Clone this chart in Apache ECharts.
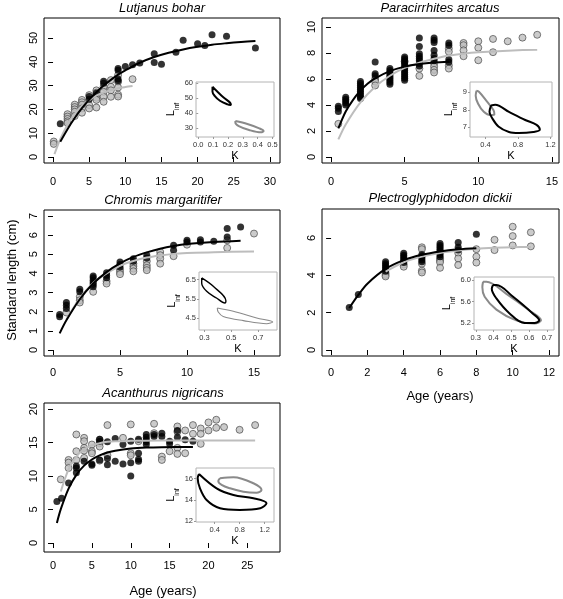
<!DOCTYPE html>
<html><head><meta charset="utf-8">
<script src="https://cdn.jsdelivr.net/npm/echarts@6/dist/echarts.min.js"></script>
<style>html,body{margin:0;padding:0;background:#fff}#c{width:563px;height:599px}</style>
</head><body><div id="c"></div>
<script>
// ---------------- DATA ----------------
const titles = ['Lutjanus bohar', 'Paracirrhites arcatus', 'Chromis margaritifer', 'Plectroglyphidodon dickii', 'Acanthurus nigricans'];
const yTitle = 'Standard length (cm)';
const xTitle = 'Age (years)';

// Lutjanus bohar
const lutjanusBlack = [[1,14],[5,24.3],[5,25.4],[6,26.8],[7,31.8],[7,31],[9,37.2],[9,36.4],[9,32.8],[9,32],[10,38],[11,38.8],[12,39.5],[14,43.4],[14,39.7],[15,39],[17,44],[18,49],[20,47.6],[21,46.8],[22,51.4],[24,50.7],[28,45.8]];
const lutjanusGrey = [[0.1,6.5],[0.1,5.5],[2,18],[2,17],[2,16],[2,15],[2,14.3],[3,22],[3,21],[3,20],[3,19],[3,17.2],[4,24],[4,23],[4,22],[4,20.4],[4,18.6],[5,26],[5,21.8],[5,20.4],[6,28],[6,27],[6,24.9],[6,24],[6,20.8],[7,29.5],[7,27.4],[7,25.3],[7,23.2],[8,32.3],[8,29.5],[8,28],[8,25.3],[9,34.4],[9,31.6],[9,29.2],[9,26.2],[9,25.4],[11,32.7]];
const lutjanusBlackFit = [[1,6.4],[2,11.7],[3,16.4],[4,20.5],[5,24.1],[6,27.2],[7,30.0],[8,32.4],[9,34.6],[10,36.4],[12,39.6],[14,42.0],[16,43.8],[18,45.2],[20,46.3],[22,47.2],[24,47.8],[26,48.3],[28,48.7]];
const lutjanusGreyFit = [[0.2,1.2],[1,7.5],[2,13.6],[3,18.1],[4,21.5],[5,23.9],[6,25.8],[7,27.1],[8,28.1],[9,28.9],[10,29.4],[11,29.8]];
const lutjanusBlackEll = [[0.096,57.7],[0.123,55.1],[0.169,50.7],[0.215,47.1],[0.22,45.5],[0.197,46],[0.146,48.4],[0.112,51.5],[0.096,54.4],[0.096,57.7]];
const lutjanusGreyEll = [[0.25,34.9],[0.331,32.9],[0.411,30],[0.44,28.2],[0.423,27.3],[0.342,28.9],[0.273,31.5],[0.25,33.7],[0.25,34.9]];

// Paracirrhites arcatus
const paraBlack = [[0.5,3.9],[0.5,3.75],[0.5,3.5],[1,4.6],[1,4.45],[1,4.3],[1,4.15],[1,4.0],[2,5.8],[2,5.65],[2,5.5],[2,5.35],[2,5.2],[2,5.05],[2,4.9],[2,4.75],[2,4.6],[2,4.5],[3,7.3],[3,6.4],[3,6.25],[4,6.8],[4,6.65],[4,6.5],[4,6.35],[4,6.2],[4,6.05],[4,5.9],[4,5.75],[4,5.6],[5,7.7],[5,7.55],[5,7.4],[5,7.25],[5,7.1],[5,6.95],[5,6.8],[5,6.65],[5,6.5],[5,6.35],[5,6.2],[5,6.05],[5,5.9],[6,9.15],[6,8.5],[6,7.95],[6,7.75],[6,7.57],[6,7.4],[6,7.2],[6,7.0],[7,9.15],[7,8.97],[7,8.8],[7,8.2],[7,7.82],[7,7.57],[7,7.4],[8,8.77],[8,8.6],[8,7.5],[8,7.3]];
const paraGrey = [[0.5,2.55],[3,6.0],[3,5.8],[3,5.5],[5,7.35],[6,6.8],[6,6.24],[7,7.2],[7,6.95],[7,6.7],[7,6.5],[8,8.35],[8,8.1],[8,7.05],[8,6.8],[9,8.77],[9,8.6],[9,8.2],[9,7.75],[10,8.9],[10,8.4],[10,7.44],[11,9.08],[11,8.06],[12,8.9],[13,9.18],[14,9.4]];
const paraBlackFit = [[0.5,2.2],[1,3.5],[1.5,4.4],[2,5.1],[2.5,5.65],[3,6.05],[4,6.6],[5,6.95],[6,7.15],[7,7.27],[8,7.33]];
const paraGreyFit = [[0.5,1.35],[1,2.5],[2,4.2],[3,5.4],[4,6.25],[5,6.85],[6,7.25],[7,7.55],[8,7.8],[9,7.95],[10,8.05],[12,8.17],[14,8.24]];
const paraBlackEll = [[0.47,8.25],[0.52,8.29],[0.69,7.88],[0.89,7.41],[1.03,7.13],[1.07,6.85],[0.99,6.72],[0.81,6.66],[0.69,6.72],[0.56,7.04],[0.48,7.54],[0.45,7.88],[0.47,8.25]];
const paraGreyEll = [[0.29,9.09],[0.32,9.04],[0.41,8.53],[0.5,7.97],[0.51,7.73],[0.46,7.69],[0.38,7.88],[0.31,8.35],[0.28,8.81],[0.29,9.09]];

// Chromis margaritifer
const chromisBlack = [[0.5,1.86],[0.5,1.74],[1,2.48],[1,2.34],[1,2.17],[2,3.18],[2,3.04],[3,3.87],[3,3.77],[3,3.65],[3,3.52],[3,3.42],[3,3.3],[4,4.04],[4,3.9],[4,3.77],[5,4.6],[5,4.46],[5,4.34],[6,4.77],[6,4.64],[7,4.95],[7,4.81],[9,5.47],[9,5.21],[10,5.73],[10,5.64],[11,5.76],[11,5.64],[12,5.68],[13,6.34],[13,5.9],[14,6.42]];
const chromisGrey = [[1,1.96],[2,2.78],[2,2.6],[2,2.48],[3,3.04],[4,3.6],[4,3.47],[5,4.22],[5,4.08],[5,3.96],[6,4.51],[6,4.38],[6,4.25],[6,4.11],[7,4.64],[7,4.43],[7,4.29],[7,4.17],[8,5.12],[8,4.95],[8,4.77],[8,4.51],[9,4.9],[10,5.5],[13,5.73],[13,5.33],[15,6.08]];
const chromisBlackFit = [[0.5,0.87],[1,1.55],[2,2.65],[3,3.47],[4,4.07],[5,4.52],[6,4.86],[7,5.1],[8,5.29],[9,5.43],[10,5.53],[12,5.64],[14,5.71]];
const chromisGreyFit = [[1,1.6],[2,2.7],[3,3.5],[4,4.0],[5,4.4],[6,4.65],[7,4.83],[8,4.94],[9,5.02],[10,5.06],[12,5.11],[15,5.14]];
const chromisBlackEll = [[0.28,6.59],[0.366,6.15],[0.46,5.4],[0.453,5.28],[0.39,5.54],[0.317,5.89],[0.28,6.33],[0.28,6.59]];
const chromisGreyEll = [[0.396,5.02],[0.515,4.85],[0.689,4.5],[0.808,4.29],[0.763,4.2],[0.59,4.36],[0.44,4.58],[0.403,4.81],[0.396,5.02]];

// Plectroglyphidodon dickii
const dickiiBlack = [[1,2.28],[1.5,2.97],[3,4.72],[3,4.62],[3,4.52],[3,4.42],[3,4.32],[3,4.22],[4,5.18],[4,5.08],[4,4.98],[4,4.88],[4,4.78],[4,4.68],[5,5.12],[5,5.02],[5,4.92],[5,4.82],[5,4.72],[6,5.7],[6,5.6],[6,5.5],[6,5.4],[6,5.3],[6,5.2],[6,5.1],[6,5.0],[7,5.75],[7,5.5],[7,5.35],[8,6.2]];
const dickiiGrey = [[3,4.12],[3,4.02],[3,3.94],[4,4.58],[4,4.46],[5,5.5],[5,5.4],[5,4.62],[5,4.25],[5,4.15],[6,4.9],[6,4.8],[6,4.7],[6,4.4],[7,5.2],[7,4.9],[7,4.55],[8,5.4],[8,5.0],[8,4.68],[9,5.9],[9,5.35],[10,6.6],[10,6.1],[10,5.6],[11,6.3],[11,5.55]];
const dickiiBlackFit = [[1,2.25],[1.5,2.95],[2,3.55],[3,4.34],[4,4.81],[5,5.1],[6,5.28],[7,5.39],[8,5.45]];
const dickiiGreyFit = [[3,4.2],[4,4.7],[5,5.0],[6,5.2],[7,5.33],[8,5.42],[9,5.47],[10,5.5],[11,5.52]];
const dickiiBlackEll = [[0.397,5.91],[0.416,5.91],[0.51,5.69],[0.62,5.38],[0.657,5.25],[0.63,5.2],[0.574,5.2],[0.49,5.38],[0.416,5.66],[0.39,5.84],[0.397,5.91]];
const dickiiGreyEll = [[0.341,5.97],[0.36,5.97],[0.47,5.75],[0.6,5.44],[0.667,5.25],[0.63,5.19],[0.527,5.25],[0.416,5.45],[0.35,5.69],[0.337,5.87],[0.341,5.97]];

// Acanthurus nigricans
const acanBlack = [[0.5,6.2],[1.1,6.7],[2,8.96],[3,10.5],[3,11.2],[3,11.5],[4,12.2],[5,11.8],[5,11.6],[6,12.4],[6,15.5],[6,15.2],[7,15.1],[7,12.6],[7,11.7],[8,15.6],[8,12.2],[9,14.7],[9,11.8],[10,15.2],[10,12.0],[10,10.0],[11,15.5],[11,13.4],[11,12.5],[11,12.2],[12,16.2],[12,15.8],[12,15.4],[12,15.1],[12,14.7],[13,16.2],[13,15.9],[14,16.4],[14,15.9],[15,15.2],[15,14.8],[16,16.8],[16,15.8],[17,15.4],[18,15.2]];
const acanGrey = [[1,9.5],[2,12.4],[2,12.0],[2,11.2],[3,16.2],[3,13.7],[3,12.4],[4,15.7],[4,15.2],[4,14.2],[4,13.8],[4,12.7],[5,14.7],[5,13.7],[5,13.4],[6,15.4],[6,14.9],[6,14.4],[6,12.3],[7,17.6],[7,13.1],[9,15.7],[10,17.7],[10,13.4],[10,13.1],[11,15.2],[13,17.8],[13,16.4],[14,12.9],[14,12.4],[15,13.7],[16,17.4],[16,16.6],[16,14.2],[16,13.3],[17,16.8],[17,13.4],[18,17.6],[18,16.3],[19,17.1],[19,16.3],[19,14.8],[20,18.0],[20,16.8],[21,18.4],[21,17.2],[22,17.3],[24,16.9],[26,17.6]];
const acanBlackFit = [[0.5,3.0],[1,5.05],[2,8.12],[3,10.18],[4,11.55],[5,12.47],[6,13.09],[7,13.5],[8,13.78],[10,14.1],[12,14.25],[14,14.31],[18,14.35]];
const acanGreyFit = [[1,7.7],[2,11.0],[3,12.9],[4,14.0],[5,14.6],[6,14.9],[7,15.1],[8,15.2],[10,15.25],[14,15.3],[20,15.3],[26,15.3]];
const acanBlackEll = [[0.148,16.43],[0.43,15.08],[0.7,14.45],[1.02,14.14],[1.23,13.67],[1.13,13.2],[0.8,13.04],[0.485,13.2],[0.27,13.98],[0.164,15.08],[0.127,16.03],[0.148,16.43]];
const acanGreyEll = [[0.485,16.03],[0.7,16.12],[1.02,15.56],[1.15,14.92],[1.07,14.67],[0.86,14.76],[0.645,15.08],[0.51,15.4],[0.457,15.77],[0.485,16.03]];

// tick labels
const mainXTicks = [[0,5,10,15,20,25,30],[0,5,10,15],[0,5,10,15],[0,2,4,6,8,10,12],[0,5,10,15,20,25]];
const mainYTicks = [[0,10,20,30,40,50],[0,2,4,6,8,10],[0,1,2,3,4,5,6,7],[0,2,4,6],[0,5,10,15,20]];
const insetKTicks = [[0,0.1,0.2,0.3,0.4,0.5],[0.4,0.8,1.2],[0.3,0.5,0.7],[0.3,0.4,0.5,0.6,0.7],[0.4,0.8,1.2]];
const insetLTicks = [[30,40,50,60],[7,8,9],[4.5,5.5,6.5],[5.2,5.6,6.0],[12,14,16]];
const insetKDec = [1,1,1,1,1];
const insetLDec = [0,0,1,1,0];

const blackPts = [lutjanusBlack, paraBlack, chromisBlack, dickiiBlack, acanBlack];
const greyPts = [lutjanusGrey, paraGrey, chromisGrey, dickiiGrey, acanGrey];
const blackFits = [lutjanusBlackFit, paraBlackFit, chromisBlackFit, dickiiBlackFit, acanBlackFit];
const greyFits = [lutjanusGreyFit, paraGreyFit, chromisGreyFit, dickiiGreyFit, acanGreyFit];
const blackElls = [lutjanusBlackEll, paraBlackEll, chromisBlackEll, dickiiBlackEll, acanBlackEll];
const greyElls = [lutjanusGreyEll, paraGreyEll, chromisGreyEll, dickiiGreyEll, acanGreyEll];

// ---------------- LAYOUT ----------------
const FONT = 'Liberation Sans, Arial, Helvetica, sans-serif';
const mainBox = [
  {l:44, t:18, w:236, h:145, x:[-1.25,31.4], y:[-2.52,58.4], m:13},
  {l:322, t:18, w:237, h:145, x:[-0.61,15.48], y:[-0.46,10.69], m:13},
  {l:44, t:210, w:236, h:146, x:[-0.67,16.94], y:[-0.31,7.31], m:11},
  {l:322, t:209, w:237, h:147, x:[-0.5,12.55], y:[-0.32,7.55], m:11},
  {l:44, t:403, w:236, h:149, x:[-1.16,29.2], y:[-1.34,20.9], m:8}
];
const insetBox = [
  {l:196, t:82, w:78, h:55, x:[-0.015,0.51], y:[24.2,60.9], lw:[2,2]},
  {l:470, t:82, w:82, h:55, x:[0.21,1.22], y:[6.43,9.6], lw:[2,2]},
  {l:199, t:272, w:78, h:58, x:[0.26,0.84], y:[3.87,6.9], lw:[1.4,1.1]},
  {l:474, t:277, w:80, h:53, x:[0.29,0.74], y:[5.07,6.06], lw:[2,2]},
  {l:196, t:468, w:78, h:54, x:[0.1,1.35], y:[11.9,17.0], lw:[2,2]}
];
const titlePos = [[162,8],[440,8],[163,200],[440,198],[163,393]];

const grids = [], xAxes = [], yAxes = [], series = [];
mainBox.forEach((b, i) => {
  grids.push({left:b.l, top:b.t, width:b.w, height:b.h, show:true, borderColor:'#000', borderWidth:1, backgroundColor:'transparent'});
  xAxes.push({type:'value', gridIndex:i, min:b.x[0], max:b.x[1],
    axisLine:{show:false}, splitLine:{show:false},
    axisTick:{show:true, customValues:mainXTicks[i], length:5, lineStyle:{color:'#000', width:1}},
    axisLabel:{customValues:mainXTicks[i], margin:b.m, fontSize:11, color:'#000', fontFamily:FONT}});
  yAxes.push({type:'value', gridIndex:i, min:b.y[0], max:b.y[1],
    axisLine:{show:false}, splitLine:{show:false},
    axisTick:{show:true, customValues:mainYTicks[i], length:5, lineStyle:{color:'#000', width:1}},
    axisLabel:{customValues:mainYTicks[i], rotate:90, margin:5, fontSize:11, color:'#000', fontFamily:FONT}});
});
insetBox.forEach((b, i) => {
  const gi = 5 + i;
  grids.push({left:b.l, top:b.t, width:b.w, height:b.h, show:true, borderColor:'#b4b4b4', borderWidth:1, backgroundColor:'transparent'});
  xAxes.push({type:'value', gridIndex:gi, min:b.x[0], max:b.x[1],
    axisLine:{show:false}, splitLine:{show:false},
    axisTick:{show:true, customValues:insetKTicks[i], length:2, lineStyle:{color:'#999'}},
    axisLabel:{customValues:insetKTicks[i], margin:4, fontSize:7.5, color:'#333', fontFamily:FONT,
      formatter: v => Number(v).toFixed(insetKDec[i])},
    name:'K', nameLocation:'middle', nameGap:13, nameTextStyle:{fontSize:11, color:'#000', fontFamily:FONT}});
  yAxes.push({type:'value', gridIndex:gi, min:b.y[0], max:b.y[1],
    axisLine:{show:false}, splitLine:{show:false},
    axisTick:{show:true, customValues:insetLTicks[i], length:2, lineStyle:{color:'#999'}},
    axisLabel:{customValues:insetLTicks[i], margin:3, fontSize:7.5, color:'#333', fontFamily:FONT,
      formatter: v => Number(v).toFixed(insetLDec[i])},
    name:'{l|L}{s|inf}', nameLocation:'middle', nameGap:10, nameRotate:90,
    nameTextStyle:{fontSize:11, color:'#000', fontFamily:FONT,
      rich:{l:{fontSize:11, fontFamily:FONT, color:'#000', lineHeight:15, verticalAlign:'top'},
            s:{fontSize:7, fontFamily:FONT, color:'#000', lineHeight:15, verticalAlign:'bottom'}}}});
});

for (let i = 0; i < 5; i++) {
  series.push({type:'scatter', xAxisIndex:i, yAxisIndex:i, data:greyPts[i], symbol:'circle', symbolSize:7,
    itemStyle:{color:'#bebebe', borderColor:'#3a3a3a', borderWidth:0.8}, silent:true});
  series.push({type:'scatter', xAxisIndex:i, yAxisIndex:i, data:blackPts[i], symbol:'circle', symbolSize:7,
    itemStyle:{color:'#000'}, silent:true});
  series.push({type:'line', xAxisIndex:i, yAxisIndex:i, data:greyFits[i], showSymbol:false, symbol:'none',
    smooth:0.3, lineStyle:{color:'#bdbdbd', width:2}, silent:true});
  series.push({type:'line', xAxisIndex:i, yAxisIndex:i, data:blackFits[i], showSymbol:false, symbol:'none',
    smooth:0.3, lineStyle:{color:'#000', width:2}, silent:true});
  const gi = 5 + i;
  series.push({type:'line', xAxisIndex:gi, yAxisIndex:gi, data:greyElls[i], showSymbol:false, symbol:'none',
    smooth:0.35, lineStyle:{color:'#8a8a8a', width:insetBox[i].lw[1]}, silent:true});
  series.push({type:'line', xAxisIndex:gi, yAxisIndex:gi, data:blackElls[i], showSymbol:false, symbol:'none',
    smooth:0.35, lineStyle:{color:'#000', width:insetBox[i].lw[0]}, silent:true});
}

const graphic = titles.map((t, i) => ({type:'text', x:titlePos[i][0], y:titlePos[i][1],
  style:{text:t, fontSize:13, fontStyle:'italic', fontFamily:FONT, fill:'#000', align:'center', verticalAlign:'middle', textAlign:'center', textVerticalAlign:'middle'}}));
graphic.push({type:'text', x:12, y:280, rotation:Math.PI/2,
  style:{text:yTitle, fontSize:13, fontFamily:FONT, fill:'#000', align:'center', verticalAlign:'middle', textAlign:'center', textVerticalAlign:'middle'}});
graphic.push({type:'text', x:440, y:396,
  style:{text:xTitle, fontSize:13, fontFamily:FONT, fill:'#000', align:'center', verticalAlign:'middle', textAlign:'center', textVerticalAlign:'middle'}});
graphic.push({type:'text', x:163, y:591,
  style:{text:xTitle, fontSize:13, fontFamily:FONT, fill:'#000', align:'center', verticalAlign:'middle', textAlign:'center', textVerticalAlign:'middle'}});

const chart = echarts.init(document.getElementById('c'), null, {renderer:'canvas'});
chart.setOption({animation:false, backgroundColor:'#fff', grid:grids, xAxis:xAxes, yAxis:yAxes, series:series, graphic:graphic});
</script></body></html>
